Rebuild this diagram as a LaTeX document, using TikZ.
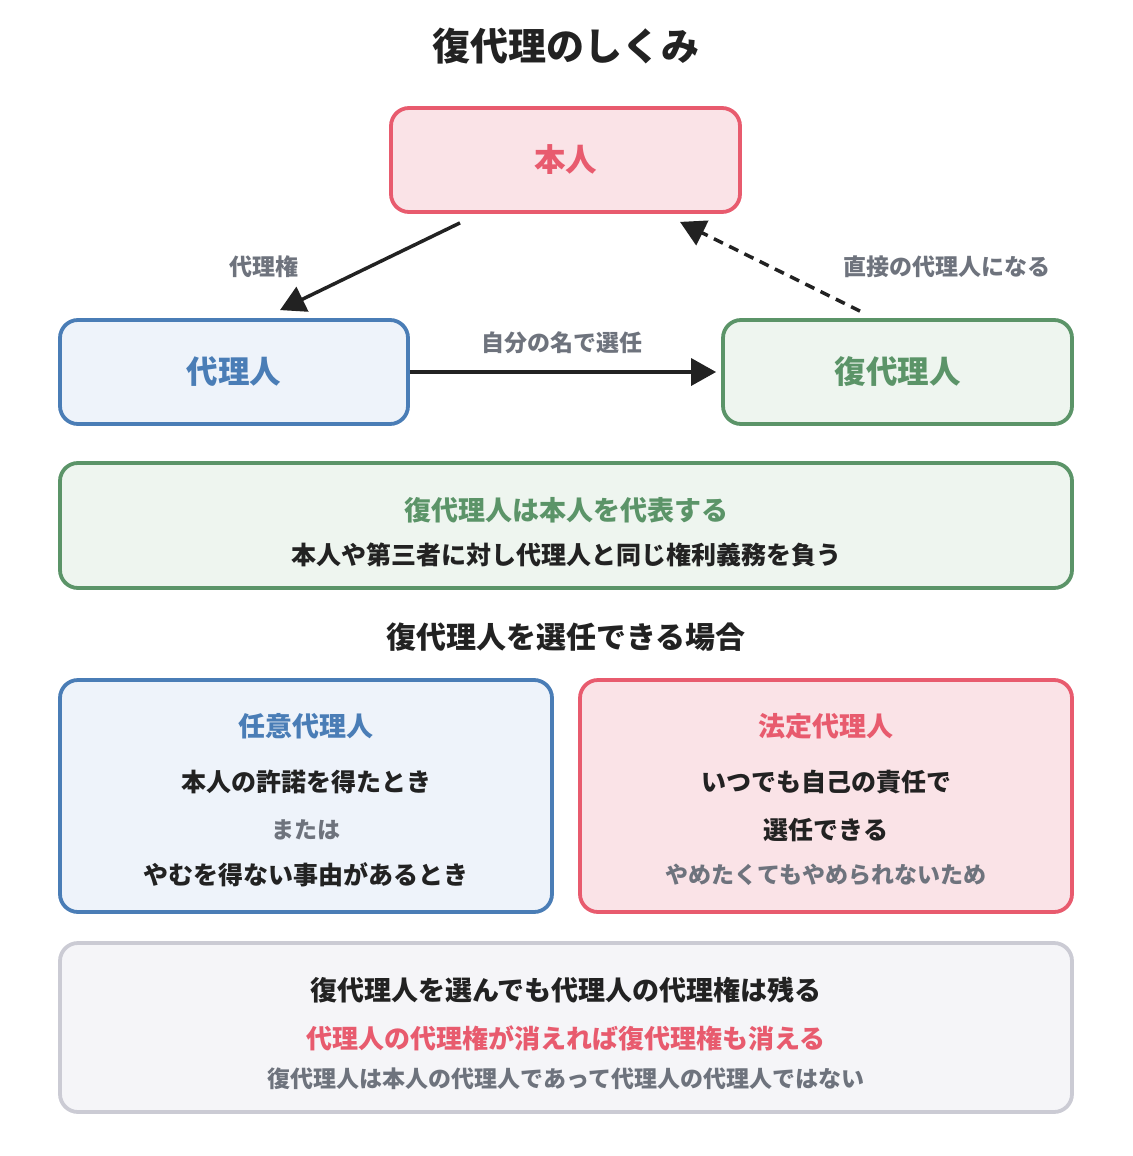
\documentclass[tikz,border=0pt]{standalone}
\usepackage{fontspec}
\setmainfont{Noto Sans CJK JP}
\usepackage{xcolor}
\usetikzlibrary{arrows.meta,positioning,calc}

\definecolor{redline}{HTML}{E85B6E}
\definecolor{redfill}{HTML}{FAE3E7}
\definecolor{blueline}{HTML}{4A7DB6}
\definecolor{bluefill}{HTML}{EEF3FA}
\definecolor{greenline}{HTML}{5B9468}
\definecolor{greenfill}{HTML}{EEF5EF}
\definecolor{grayline}{HTML}{CBCBD4}
\definecolor{grayfill}{HTML}{F5F5F8}
\definecolor{graytext}{HTML}{6E737D}
\definecolor{darktext}{HTML}{222222}

\newcommand{\fs}[1]{\fontsize{#1}{#1}\selectfont\bfseries}

\begin{document}
\begin{tikzpicture}[x=1pt, y=-1pt]
    % Styles
    \tikzstyle{box} = [rectangle, rounded corners=18, line width=3.8, inner sep=0pt]
    \tikzstyle{redbox} = [box, draw=redline, fill=redfill]
    \tikzstyle{bluebox} = [box, draw=blueline, fill=bluefill]
    \tikzstyle{greenbox} = [box, draw=greenline, fill=greenfill]
    \tikzstyle{graybox} = [box, draw=grayline, fill=grayfill]
    \tikzstyle{lbl} = [font=\fs{23}, text=graytext, inner sep=0pt]
    \tikzstyle{txt} = [font=\fs{25}, text=darktext, inner sep=0pt]
    \tikzstyle{arr} = [draw=darktext, line width=3.5, -{Triangle[length=25,width=27]}]

    \useasboundingbox (0,0) rectangle (1132,1156);

    % Title
    \node [font=\fs{38}, text=darktext] (title) at (566,46) {復代理のしくみ};

    % Top triangle
    \node [redbox, minimum width=349, minimum height=104, font=\fs{31.5}, text=redline] (honnin) at (565.5,160) {本人};
    \node [bluebox, minimum width=348, minimum height=104, font=\fs{31.5}, text=blueline] (dairi) at (234,372) {代理人};
    \node [greenbox, minimum width=349, minimum height=104, font=\fs{31.5}, text=greenline] (fuku) at (897.5,372) {復代理人};

    \node [lbl] (l1) at (264,267) {代理権};
    \node [lbl] (l2) at (947,267) {直接の代理人になる};
    \node [lbl] (l3) at (562,343) {自分の名で選任};

    \draw [arr] ($(honnin.south)+(-105.5,9)$) -- ($(dairi.north)+(46,-8)$);
    \draw [arr, dashed, dash pattern=on 10 off 7] ($(fuku.north)+(-37.5,-7)$) -- ($(honnin.south)+(114.5,8)$);
    \draw [arr, shorten >=5] (dairi.east) -- (fuku.west);

    % Representation
    \node [greenbox, minimum width=1012, minimum height=125] (rep) at (566,525.5) {};
    \node [font=\fs{27}, text=greenline, inner sep=0pt] (rep1) at (566,510) {復代理人は本人を代表する};
    \node [txt] (rep2) at (566,555) {本人や第三者に対し代理人と同じ権利義務を負う};

    % Cases
    \node [font=\fs{30}, text=darktext, inner sep=0pt] (cases) at (566,637) {復代理人を選任できる場合};

    \node [bluebox, minimum width=492, minimum height=232] (nini) at (306,796) {};
    \node [font=\fs{27}, text=blueline, inner sep=0pt] (nini1) at (306,726) {任意代理人};
    \node [txt] (nini2) at (306,782) {本人の許諾を得たとき};
    \node [lbl] (nini3) at (306,830) {または};
    \node [txt] (nini4) at (306,875) {やむを得ない事由があるとき};

    \node [redbox, minimum width=492, minimum height=232] (hotei) at (826,796) {};
    \node [font=\fs{27}, text=redline, inner sep=0pt] (hotei1) at (826,726) {法定代理人};
    \node [txt] (hotei2) at (826,782) {いつでも自己の責任で};
    \node [txt] (hotei3) at (826,830) {選任できる};
    \node [lbl] (hotei4) at (826,875) {やめたくてもやめられないため};

    % Note
    \node [graybox, minimum width=1012, minimum height=169] (note) at (566,1027.5) {};
    \node [txt, font=\fs{27}] (note1) at (566,990) {復代理人を選んでも代理人の代理権は残る};
    \node [txt, font=\fs{26}, text=redline] (note2) at (566,1038) {代理人の代理権が消えれば復代理権も消える};
    \node [lbl] (note3) at (566,1079) {復代理人は本人の代理人であって代理人の代理人ではない};
\end{tikzpicture}
\end{document}
